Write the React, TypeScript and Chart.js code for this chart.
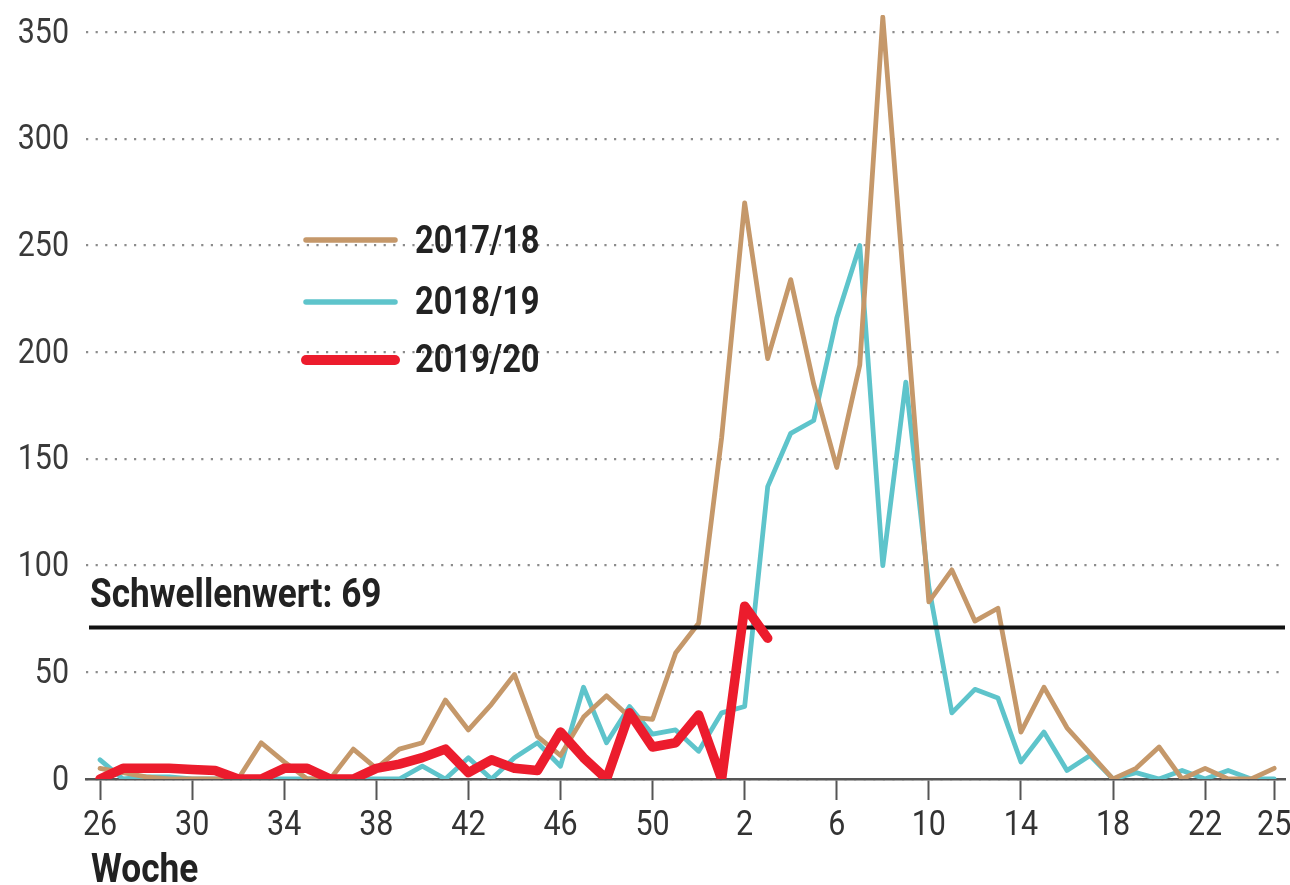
import React, { useEffect, useRef } from 'react';
import { Chart, registerables } from 'chart.js';

Chart.register(...registerables);

// Calendar weeks of the season (week 26 to week 25 of the following year)
const WEEKS = [
  26, 27, 28, 29, 30, 31, 32, 33, 34, 35, 36, 37, 38, 39, 40, 41, 42, 43, 44, 45, 46, 47, 48, 49, 50, 51, 52,
  1, 2, 3, 4, 5, 6, 7, 8, 9, 10, 11, 12, 13, 14, 15, 16, 17, 18, 19, 20, 21, 22, 23, 24, 25,
];
const TICK_WEEKS = [26, 30, 34, 38, 42, 46, 50, 2, 6, 10, 14, 18, 22, 25];
const Y_TICKS = [0, 50, 100, 150, 200, 250, 300, 350];

const SEASONS = ['2017/18', '2018/19', '2019/20'];

const S2017_18 = [
  5, 3, 1, 0, 0, 0, 0, 17, 8, 0, 0, 14, 5, 14, 17, 37, 23, 35, 49, 20, 11, 29, 39, 29, 28, 59, 73,
  160, 270, 197, 234, 185, 146, 194, 357, 220, 83, 98, 74, 80, 22, 43, 24, 12, 0, 5, 15, 0, 5, 0, 0, 5,
];
const S2018_19 = [
  9, 0, 1, 1, 0, 0, 0, 0, 0, 0, 0, 0, 0, 0, 6, 0, 10, 0, 10, 17, 6, 43, 17, 34, 21, 23, 13,
  31, 34, 137, 162, 168, 216, 250, 100, 186, 90, 31, 42, 38, 8, 22, 4, 11, 0, 3, 0, 4, 0, 4, 0, 0,
];
const S2019_20 = [
  0, 5, 5, 5, 4.5, 4, 0, 0, 5, 5, 0, 0, 5, 7, 10, 14, 3, 9, 5, 4, 22, 10, 0, 31, 15, 17, 30,
  0, 81, 66,
];

const THRESHOLD_TEXT = 'Schwellenwert: 69';
const THRESHOLD_LINE = 71;
const X_TITLE = 'Woche';

const COLORS = ['#C5986A', '#5EC4CB', '#EC1C2D'];
const WIDTHS = [4.8, 4.8, 9.5];

const FONT = 'Roboto, "Noto Sans", sans-serif';
const REG_SX = 0.87; // horizontal compression to imitate a condensed face
const BOLD_SX = 0.86;

function drawText(
  ctx: CanvasRenderingContext2D,
  text: string,
  x: number,
  y: number,
  font: string,
  align: CanvasTextAlign,
  sx: number,
  color: string
) {
  ctx.save();
  ctx.translate(x, y);
  ctx.scale(sx, 1);
  ctx.font = font;
  ctx.fillStyle = color;
  ctx.textAlign = align;
  ctx.textBaseline = 'alphabetic';
  ctx.fillText(text, 0, 0);
  ctx.restore();
}

export default function App() {
  const ref = useRef<HTMLCanvasElement | null>(null);

  useEffect(() => {
    const canvas = ref.current;
    if (!canvas) return;

    const toPoints = (arr: number[]) => arr.map((v, i) => ({ x: i, y: v }));
    const series = [S2017_18, S2018_19, S2019_20];

    const overlay = {
      id: 'overlay',
      afterDatasetDraw(chart: any, args: any) {
        // threshold line: above 2017/18 and 2018/19, below 2019/20
        if (args.index !== 0) return;
        const { ctx, chartArea, scales } = chart;
        const y = scales.y.getPixelForValue(THRESHOLD_LINE);
        ctx.save();
        ctx.strokeStyle = '#111';
        ctx.lineWidth = 4;
        ctx.beginPath();
        ctx.moveTo(chartArea.left + 3, y);
        ctx.lineTo(chartArea.right, y);
        ctx.stroke();
        ctx.restore();
      },
      afterDraw(chart: any) {
        const { ctx, scales } = chart;
        const regFont = `400 35px ${FONT}`;

        // y tick labels
        Y_TICKS.forEach((v) => {
          const y = scales.y.getPixelForValue(v);
          drawText(ctx, String(v), 69, y + 10.6, regFont, 'right', REG_SX, '#3a3a3a');
        });
        // x tick labels
        TICK_WEEKS.forEach((w) => {
          const x = scales.x.getPixelForValue(WEEKS.indexOf(w));
          drawText(ctx, String(w), x, 835, regFont, 'center', REG_SX, '#333');
        });

        drawText(ctx, THRESHOLD_TEXT, 90, 607, `700 40px ${FONT}`, 'left', 0.88, '#222');
        drawText(ctx, X_TITLE, 91, 882, `700 41px ${FONT}`, 'left', BOLD_SX, '#222');

        // legend
        const ys = [240, 302, 360];
        const base = [253, 314, 372];
        SEASONS.forEach((s, i) => {
          ctx.save();
          ctx.strokeStyle = COLORS[i];
          ctx.lineWidth = i === 2 ? 10 : 5.5;
          ctx.lineCap = 'round';
          ctx.beginPath();
          ctx.moveTo(306, ys[i]);
          ctx.lineTo(395, ys[i]);
          ctx.stroke();
          ctx.restore();
          drawText(ctx, s, 415, base[i], `700 38px ${FONT}`, 'left', BOLD_SX, '#222');
        });
      },
    };

    const chart = new Chart(canvas, {
      type: 'line',
      data: {
        datasets: series.map((arr, i) => ({
          label: SEASONS[i],
          data: toPoints(arr),
          borderColor: COLORS[i],
          backgroundColor: COLORS[i],
          borderWidth: WIDTHS[i],
          pointRadius: 0,
          tension: 0,
          fill: false,
          borderJoinStyle: 'round',
          borderCapStyle: 'round',
          order: i === 2 ? 0 : i === 0 ? 1 : 2,
        })),
      },
      options: {
        animation: false,
        responsive: false,
        layout: { padding: { top: 15, right: 5, left: 0, bottom: 0 } },
        plugins: {
          legend: { display: false },
          tooltip: { enabled: false },
        },
        scales: {
          x: {
            type: 'linear',
            min: -0.61,
            max: 51.47,
            afterBuildTicks: (scale: any) => {
              scale.ticks = TICK_WEEKS.map((w) => ({ value: WEEKS.indexOf(w) }));
            },
            afterFit: (scale: any) => {
              scale.height = 106;
              scale.paddingLeft = 0;
              scale.paddingRight = 0;
            },
            grid: {
              drawOnChartArea: false,
              drawTicks: true,
              tickLength: 21,
              tickWidth: 2,
              tickColor: '#555',
            },
            border: { display: true, color: '#555', width: 2.5 },
            ticks: { display: false },
          },
          y: {
            type: 'linear',
            min: 0,
            max: 358,
            afterBuildTicks: (scale: any) => {
              scale.ticks = Y_TICKS.map((v) => ({ value: v }));
            },
            afterFit: (scale: any) => {
              scale.width = 86;
              scale.paddingTop = 0;
              scale.paddingBottom = 0;
            },
            grid: {
              drawTicks: false,
              color: '#8c8c8c',
              lineWidth: 2.2,
            },
            border: { display: false, dash: [2.2, 7.4] },
            ticks: { display: false },
          },
        },
      },
      plugins: [overlay],
    } as any);

    return () => chart.destroy();
  }, []);

  return (
    <div style={{ position: 'fixed', left: 0, top: 0, width: 1290, height: 885, background: '#fff' }}>
      <canvas ref={ref} width={1290} height={885} style={{ display: 'block' }} />
    </div>
  );
}
